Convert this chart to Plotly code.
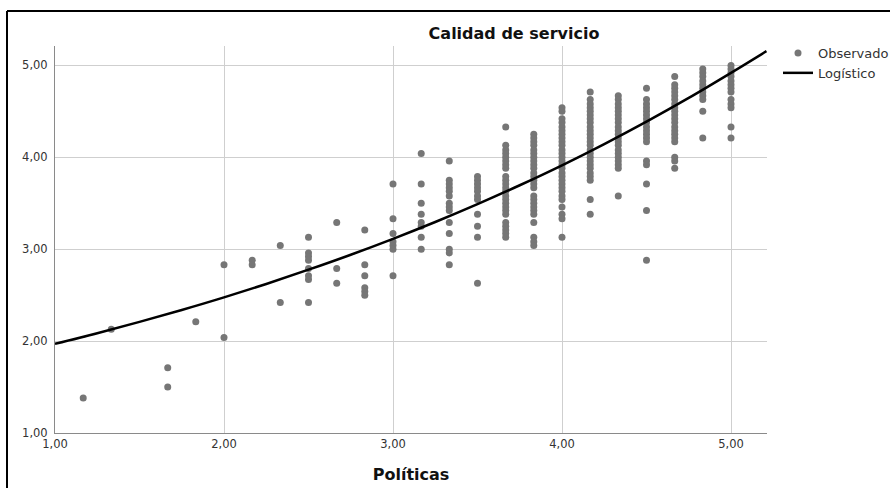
import plotly.graph_objects as go

# Observed data: Políticas levels (x) and Calidad de servicio values (y) per level
politicas_niveles = [1.167, 1.333, 1.667, 1.833, 2.000, 2.167, 2.333, 2.500, 2.667,
                     2.833, 3.000, 3.167, 3.333, 3.500, 3.667, 3.833, 4.000, 4.167,
                     4.333, 4.500, 4.667, 4.833, 5.000]

calidad_por_nivel = [
    [1.38],
    [2.13],
    [1.71, 1.50],
    [2.21],
    [2.83, 2.04],
    [2.88, 2.83],
    [3.04, 2.42],
    [3.13, 2.96, 2.92, 2.88, 2.79, 2.71, 2.67, 2.42],
    [3.29, 2.79, 2.63],
    [3.21, 2.83, 2.71, 2.58, 2.54, 2.50],
    [3.71, 3.33, 3.17, 3.08, 3.04, 3.00, 2.71],
    [4.04, 3.71, 3.50, 3.38, 3.29, 3.25, 3.13, 3.00],
    [3.96, 3.75, 3.71, 3.67, 3.63, 3.58, 3.50, 3.46, 3.42, 3.29, 3.17, 3.00, 2.96, 2.83],
    [3.79, 3.75, 3.71, 3.67, 3.63, 3.58, 3.54, 3.38, 3.25, 3.13, 2.63],
    [4.33, 4.13, 4.08, 4.04, 4.00, 3.96, 3.92, 3.88, 3.79, 3.75, 3.71, 3.67, 3.63,
     3.58, 3.54, 3.50, 3.46, 3.42, 3.38, 3.29, 3.25, 3.21, 3.17, 3.13],
    [4.25, 4.21, 4.17, 4.13, 4.08, 4.04, 4.00, 3.96, 3.92, 3.88, 3.83, 3.79, 3.75,
     3.71, 3.67, 3.58, 3.54, 3.50, 3.46, 3.42, 3.38, 3.29, 3.13, 3.08, 3.04],
    [4.54, 4.50, 4.42, 4.38, 4.33, 4.29, 4.25, 4.21, 4.17, 4.13, 4.08, 4.04, 4.00,
     3.96, 3.92, 3.88, 3.83, 3.79, 3.75, 3.71, 3.67, 3.63, 3.58, 3.54, 3.46, 3.38,
     3.33, 3.13],
    [4.71, 4.63, 4.58, 4.54, 4.50, 4.46, 4.42, 4.38, 4.33, 4.29, 4.25, 4.21, 4.17,
     4.13, 4.08, 4.04, 4.00, 3.96, 3.92, 3.88, 3.83, 3.79, 3.75, 3.54, 3.38],
    [4.67, 4.63, 4.58, 4.54, 4.50, 4.46, 4.42, 4.38, 4.33, 4.29, 4.25, 4.21, 4.17,
     4.13, 4.08, 4.04, 4.00, 3.96, 3.92, 3.88, 3.58],
    [4.75, 4.63, 4.58, 4.54, 4.50, 4.46, 4.42, 4.38, 4.33, 4.29, 4.25, 4.21, 4.17,
     3.96, 3.92, 3.71, 3.42, 2.88],
    [4.88, 4.79, 4.75, 4.71, 4.67, 4.63, 4.58, 4.54, 4.50, 4.46, 4.42, 4.38, 4.33,
     4.29, 4.25, 4.21, 4.17, 4.00, 3.96, 3.88],
    [4.96, 4.92, 4.88, 4.83, 4.79, 4.75, 4.71, 4.67, 4.63, 4.50, 4.21],
    [5.00, 4.96, 4.92, 4.88, 4.83, 4.79, 4.75, 4.71, 4.63, 4.58, 4.54, 4.33, 4.21],
]

# Fitted logistic curve
curva_x = [1.00, 1.25, 1.50, 1.75, 2.00, 2.25, 2.50, 2.75, 3.00, 3.25, 3.50,
           3.75, 4.00, 4.25, 4.50, 4.75, 5.00, 5.21]
curva_y = [1.970, 2.086, 2.209, 2.339, 2.476, 2.622, 2.777, 2.940, 3.113, 3.296,
           3.490, 3.696, 3.913, 4.144, 4.388, 4.646, 4.919, 5.155]

eje_vals = [1, 2, 3, 4, 5]

titulo = "Calidad de servicio"
titulo_x = "Políticas"
nombres = ["Observado", "Logístico"]

x_obs = [x for x, ys in zip(politicas_niveles, calidad_por_nivel) for _ in ys]
y_obs = [y for ys in calidad_por_nivel for y in ys]

FONT = "DejaVu Sans"
TXT = "#333333"

fig = go.Figure()
fig.add_trace(go.Scatter(
    x=x_obs, y=y_obs, mode="markers", name=nombres[0],
    marker=dict(color="#767676", size=7, line=dict(width=0)),
))
fig.add_trace(go.Scatter(
    x=curva_x, y=curva_y, mode="lines", name=nombres[1],
    line=dict(color="#000000", width=2.5, shape="spline"),
))

L, R, T, B = 55, 123, 46, 55
W, H = 890, 488
pw, ph = W - L - R, H - T - B


def px2paper_x(px):
    return (px - L) / pw


def py2paper_y(py):
    return (H - B - py) / ph


frame = dict(type="line", xref="paper", yref="paper",
             line=dict(color="#000000", width=2))

fig.update_layout(
    width=W, height=H,
    margin=dict(l=L, r=R, t=T, b=B, pad=0, autoexpand=False),
    paper_bgcolor="white", plot_bgcolor="white",
    separators=",.",
    font=dict(family=FONT, color=TXT, size=12),
    title=dict(text="<b>" + titulo + "</b>", x=px2paper_x(514), xref="paper",
               xanchor="center", y=1 - 33 / H, yanchor="middle",
               font=dict(family=FONT, size=16, color="#111111")),
    xaxis=dict(range=[1, 1 + pw / 169.0], tickvals=eje_vals, tickformat=".2f",
               ticks="", showline=True, linecolor="#8a8a8a", linewidth=1,
               showgrid=True, gridcolor="#cfcfcf", gridwidth=1, zeroline=False,
               tickfont=dict(size=11.5, color=TXT),
               title=dict(text="<b>" + titulo_x + "</b>", standoff=19,
                          font=dict(family=FONT, size=16, color="#111111"))),
    yaxis=dict(range=[1, 1 + ph / 91.9], tickvals=eje_vals, tickformat=".2f",
               ticks="", showline=True, linecolor="#8a8a8a", linewidth=1,
               showgrid=True, gridcolor="#cfcfcf", gridwidth=1, zeroline=False,
               ticklabelstandoff=4,
               tickfont=dict(size=11.5, color=TXT)),
    legend=dict(x=px2paper_x(778), y=py2paper_y(38), xanchor="left", yanchor="top",
                bgcolor="rgba(0,0,0,0)", font=dict(family=FONT, size=13, color=TXT),
                itemwidth=30, tracegroupgap=0),
    showlegend=True,
    shapes=[
        dict(frame, x0=px2paper_x(7), x1=px2paper_x(W + 2), y0=py2paper_y(11), y1=py2paper_y(11)),
        dict(frame, x0=px2paper_x(7), x1=px2paper_x(7), y0=py2paper_y(11), y1=py2paper_y(H + 2)),
    ],
)

fig.write_html("out.html")
